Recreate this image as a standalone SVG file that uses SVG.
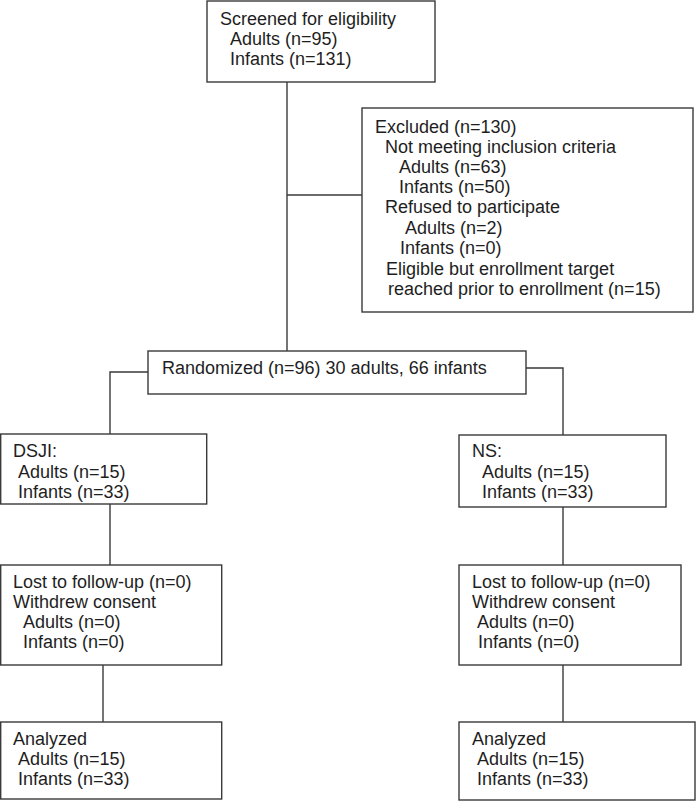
<svg xmlns="http://www.w3.org/2000/svg" width="696" height="802" viewBox="0 0 696 802">
<style>
.box{fill:#fff;stroke:#3a3a3a;stroke-width:1.4}
.ln{fill:none;stroke:#3a3a3a;stroke-width:1.4}
text{font-family:"Liberation Sans",Arial,sans-serif;font-size:18px;fill:#1e1e1e}
</style>
<rect width="696" height="802" fill="#fff"/>
<g id="connectors">
<path class="ln" d="M287,82 V351"/>
<path class="ln" d="M287,195 H362"/>
<path class="ln" d="M148,372 H110 V434"/>
<path class="ln" d="M526,368 H563 V435"/>
<path class="ln" d="M110,504 V565"/>
<path class="ln" d="M103,665 V722"/>
<path class="ln" d="M563,507 V565"/>
<path class="ln" d="M563,665 V722"/>
</g>
<g id="screened">
<rect class="box" x="207" y="1" width="228" height="81"/>
<text x="220" y="25">Screened for eligibility</text>
<text x="230" y="45">Adults (n=95)</text>
<text x="230" y="65">Infants (n=131)</text>
</g>
<g id="excluded">
<rect class="box" x="362" y="108" width="331" height="204"/>
<text x="375" y="133">Excluded (n=130)</text>
<text x="385" y="153">Not meeting inclusion criteria</text>
<text x="399" y="173">Adults (n=63)</text>
<text x="399" y="193">Infants (n=50)</text>
<text x="385" y="213">Refused to participate</text>
<text x="405" y="234">Adults (n=2)</text>
<text x="400" y="254">Infants (n=0)</text>
<text x="386" y="275">Eligible but enrollment target</text>
<text x="388" y="295">reached prior to enrollment (n=15)</text>
</g>
<g id="randomized">
<rect class="box" x="148" y="351" width="378" height="43"/>
<text x="162" y="374">Randomized (n=96) 30 adults, 66 infants</text>
</g>
<g id="dsji">
<rect class="box" x="0.7" y="434" width="206" height="70"/>
<text x="13" y="457">DSJI:</text>
<text x="18" y="478">Adults (n=15)</text>
<text x="18" y="498">Infants (n=33)</text>
</g>
<g id="ns">
<rect class="box" x="459" y="435" width="207" height="72"/>
<text x="472" y="457">NS:</text>
<text x="482" y="478">Adults (n=15)</text>
<text x="482" y="498">Infants (n=33)</text>
</g>
<g id="lost-dsji">
<rect class="box" x="0.7" y="565" width="221" height="100"/>
<text x="13" y="588">Lost to follow-up (n=0)</text>
<text x="13" y="608">Withdrew consent</text>
<text x="23" y="628">Adults (n=0)</text>
<text x="23" y="648">Infants (n=0)</text>
</g>
<g id="lost-ns">
<rect class="box" x="459" y="565" width="222" height="100"/>
<text x="472" y="588">Lost to follow-up (n=0)</text>
<text x="472" y="608">Withdrew consent</text>
<text x="477" y="628">Adults (n=0)</text>
<text x="478" y="648">Infants (n=0)</text>
</g>
<g id="analyzed-dsji">
<rect class="box" x="0.7" y="722" width="221" height="77"/>
<text x="13" y="745">Analyzed</text>
<text x="18" y="765">Adults (n=15)</text>
<text x="18" y="785">Infants (n=33)</text>
</g>
<g id="analyzed-ns">
<rect class="box" x="459" y="722" width="236" height="78"/>
<text x="472" y="745">Analyzed</text>
<text x="477" y="765">Adults (n=15)</text>
<text x="477" y="785">Infants (n=33)</text>
</g>
</svg>
